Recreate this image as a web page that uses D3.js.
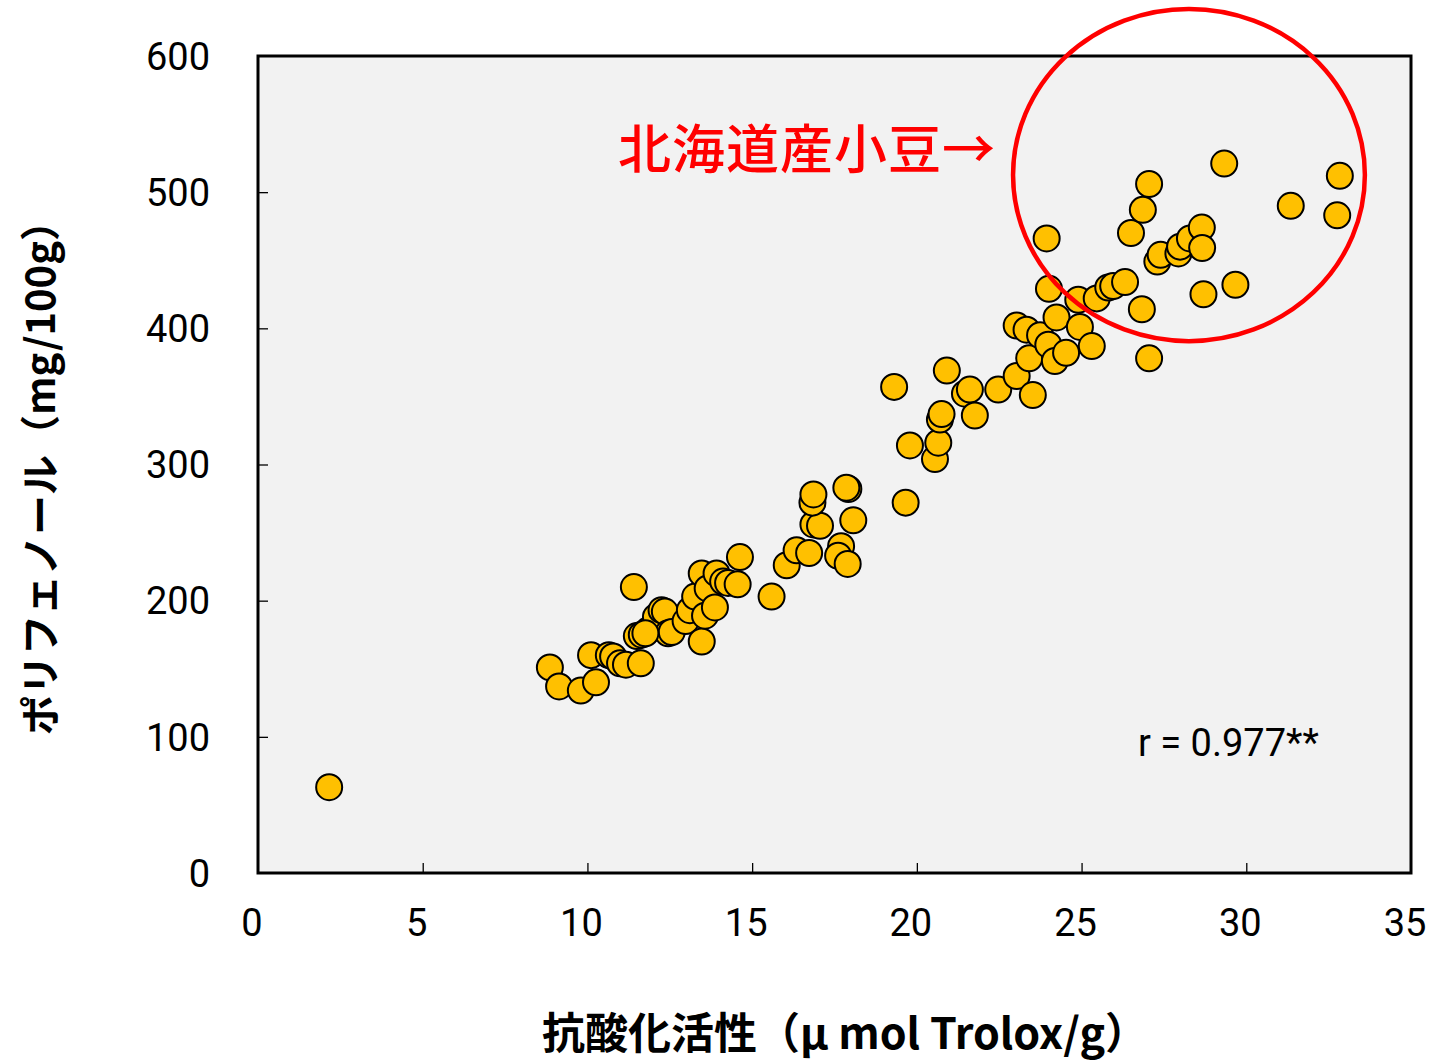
<!DOCTYPE html>
<html>
<head>
<meta charset="utf-8">
<script src="https://cdn.jsdelivr.net/npm/d3@7"></script>
<style>
  html, body { margin: 0; padding: 0; background: #ffffff; }
  svg { display: block; }
</style>
</head>
<body>
<svg id="chart" width="1433" height="1061"></svg>
<script>
// Antioxidant activity (µmol Trolox/g) for each sample
const activity = [
  2.16, 8.86, 9.14, 9.80, 10.11, 10.26, 10.65, 10.78, 10.99, 11.17,
  11.62, 11.41, 11.50, 11.84, 12.08, 12.25, 12.35, 12.45, 12.56, 12.98,
  13.11, 13.27, 13.47, 13.47, 13.57, 13.65, 13.87, 13.92, 14.12, 14.27,
  14.56, 14.63, 15.59, 16.05, 16.35, 16.73, 16.86, 17.06, 16.83, 16.86,
  17.70, 17.61, 17.90, 17.92, 17.86, 18.07, 19.31, 19.66, 19.79, 20.55,
  20.65, 20.70, 20.75, 20.91, 21.46, 21.61, 21.76, 22.47, 23.03, 23.03,
  23.33, 23.41, 23.52, 23.74, 23.99, 23.94, 24.01, 24.19, 24.24, 24.53,
  24.90, 24.95, 25.31, 25.46, 25.81, 25.96, 26.32, 26.50, 26.86, 26.83,
  27.05, 27.05, 27.30, 27.40, 27.94, 27.99, 28.29, 28.65, 28.66, 28.70,
  29.33, 29.67, 31.35, 32.76, 32.84, 11.65, 11.76
];

// Polyphenol content (mg/100g) for the same samples
const polyphenol = [
  63, 151, 137, 134, 160, 140, 160, 159, 154, 153,
  154, 210, 174, 178, 188, 193, 192, 176, 177, 185,
  193, 203, 220, 170, 189, 209, 195, 220, 214, 213,
  212, 232, 203, 226, 237, 235, 256, 255, 272, 278,
  240, 233, 227, 282, 283, 259, 357, 272, 314, 304,
  316, 333, 337, 369, 352, 355, 336, 355, 365, 402,
  399, 378, 351, 395, 388, 466, 429, 376, 408, 382,
  421, 401, 387, 422, 430, 431, 434, 470, 487, 414,
  506, 378, 449, 454, 455, 460, 466, 474, 459, 425,
  521, 432, 490, 483, 512, 175, 176
];

const xTicks = [0, 5, 10, 15, 20, 25, 30, 35];
const yTicks = [0, 100, 200, 300, 400, 500, 600];

const xTitle = "抗酸化活性（μ mol Trolox/g）";
const yTitle = "ポリフェノール（mg/100g）";
const noteText = "北海道産小豆→";
const corrText = "r = 0.977**";

// Highlight ellipse around the Hokkaido group, in data units
const highlight = { cx: 28.26, cy: 512.6, rx: 5.34, ry: 122 };

const svg = d3.select("#chart");
const plot = { left: 258, top: 56, right: 1411, bottom: 873 };

const x = d3.scaleLinear().domain([0, 35]).range([plot.left, plot.right]);
const y = d3.scaleLinear().domain([0, 600]).range([plot.bottom, plot.top]);

const numFont = "Roboto, 'Liberation Sans', sans-serif";
const jpFont = "'Noto Sans CJK JP', sans-serif";

// Plot background
svg.append("rect")
  .attr("x", plot.left).attr("y", plot.top)
  .attr("width", plot.right - plot.left)
  .attr("height", plot.bottom - plot.top)
  .attr("fill", "#f2f2f2");

// Inward tick marks
svg.append("g")
  .attr("transform", `translate(0,${plot.bottom})`)
  .call(d3.axisTop(x).tickValues(xTicks.slice(1, -1)).tickSize(10).tickFormat(""))
  .call(g => g.select(".domain").remove())
  .call(g => g.selectAll("line").attr("stroke", "#000").attr("stroke-width", 1.3));

svg.append("g")
  .attr("transform", `translate(${plot.left},0)`)
  .call(d3.axisRight(y).tickValues(yTicks.slice(1, -1)).tickSize(10).tickFormat(""))
  .call(g => g.select(".domain").remove())
  .call(g => g.selectAll("line").attr("stroke", "#000").attr("stroke-width", 1.3));

// Tick labels
svg.append("g").selectAll("text")
  .data(xTicks).join("text")
  .attr("x", d => x(d) - 6)
  .attr("y", 936)
  .attr("text-anchor", "middle")
  .attr("font-family", numFont)
  .attr("font-size", 38)
  .attr("fill", "#000")
  .text(d => d);

svg.append("g").selectAll("text")
  .data(yTicks).join("text")
  .attr("x", 210)
  .attr("y", d => y(d))
  .attr("dy", "0.36em")
  .attr("text-anchor", "end")
  .attr("font-family", numFont)
  .attr("font-size", 38)
  .attr("fill", "#000")
  .text(d => d);

// Data points
const pts = activity.map((a, i) => ({ a, p: polyphenol[i] }));
svg.append("g").selectAll("circle")
  .data(pts).join("circle")
  .attr("cx", d => x(d.a))
  .attr("cy", d => y(d.p))
  .attr("r", 13)
  .attr("fill", "#ffc000")
  .attr("stroke", "#000")
  .attr("stroke-width", 2);

// Plot frame
svg.append("rect")
  .attr("x", plot.left).attr("y", plot.top)
  .attr("width", plot.right - plot.left)
  .attr("height", plot.bottom - plot.top)
  .attr("fill", "none")
  .attr("stroke", "#000")
  .attr("stroke-width", 3);

// Highlight ellipse
svg.append("ellipse")
  .attr("cx", x(highlight.cx))
  .attr("cy", y(highlight.cy))
  .attr("rx", x(highlight.rx) - x(0))
  .attr("ry", y(0) - y(highlight.ry))
  .attr("fill", "none")
  .attr("stroke", "#ff0000")
  .attr("stroke-width", 4.5);

// Annotation label
svg.append("text")
  .attr("x", 618)
  .attr("y", 169)
  .attr("font-family", jpFont)
  .attr("font-weight", 500)
  .attr("font-size", 53)
  .attr("letter-spacing", 1)
  .attr("fill", "#ff0000")
  .text(noteText);

// Correlation coefficient
svg.append("text")
  .attr("x", 1138)
  .attr("y", 756)
  .attr("font-family", numFont)
  .attr("font-size", 38)
  .attr("fill", "#000")
  .text(corrText);

// Axis titles
svg.append("text")
  .attr("x", 845)
  .attr("y", 1049)
  .attr("text-anchor", "middle")
  .attr("font-family", jpFont)
  .attr("font-weight", "bold")
  .attr("font-size", 43)
  .attr("fill", "#000")
  .text(xTitle);

svg.append("text")
  .attr("transform", "translate(55,468) rotate(-90)")
  .attr("text-anchor", "middle")
  .attr("font-family", jpFont)
  .attr("font-weight", "bold")
  .attr("font-size", 40)
  .attr("fill", "#000")
  .text(yTitle);
</script>
</body>
</html>
